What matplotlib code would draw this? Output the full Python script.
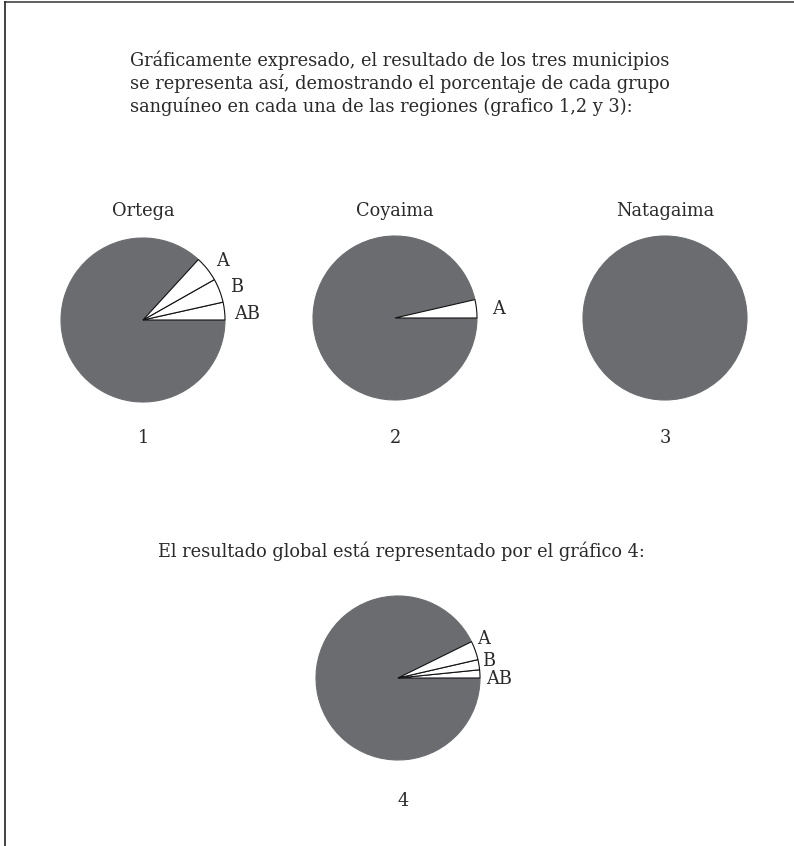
import numpy as np
import matplotlib.pyplot as plt
from matplotlib.lines import Line2D

# blood group shares (%) per municipality
ortega_labels = ['AB', 'B', 'A', '']
ortega_values = [3.5, 4.7, 5.0, 86.8]

coyaima_labels = ['A', '']
coyaima_values = [3.6, 96.4]

natagaima_labels = ['']
natagaima_values = [100.0]

global_labels = ['AB', 'B', 'A', '']
global_values = [1.6, 2.0, 3.7, 92.7]

GRAY = '#6b6c70'
TXT = '#2a2a2a'
FS = 12.8
W, H = 794, 846

plt.rcParams['font.family'] = ['DejaVu Serif']

fig = plt.figure(figsize=(W / 100, H / 100), dpi=100)


def fx(px):
    return px / W


def fy(py):
    return 1 - py / H


# page border (top and left)
fig.add_artist(Line2D([fx(5), 1], [fy(2), fy(2)], color='#444444', lw=1.2))
fig.add_artist(Line2D([fx(5), fx(5)], [fy(2), 0], color='#222222', lw=1.2))

fig.text(fx(130), fy(50),
         'Gráficamente expresado, el resultado de los tres municipios\n'
         'se representa así, demostrando el porcentaje de cada grupo\n'
         'sanguíneo en cada una de las regiones (grafico 1,2 y 3):',
         ha='left', va='top', fontsize=FS, color=TXT, linespacing=1.3)


def draw_pie(cx, cy, values, labels, title, num, num_x, num_y, r=82, ldist=1.24, label_pos=None):
    ax = fig.add_axes([fx(cx - r), fy(cy + r), 2 * r / W, 2 * r / H])
    colors = ['white'] * (len(values) - 1) + [GRAY]
    wedges, texts = ax.pie(values, labels=labels, colors=colors, startangle=0,
                           counterclock=True, labeldistance=ldist,
                           wedgeprops=dict(edgecolor='#111111', linewidth=0.8),
                           textprops=dict(fontsize=FS, color=TXT))
    wedges[-1].set_edgecolor(GRAY)
    wedges[-1].set_zorder(0)
    for i, t in enumerate(texts):
        t.set_ha('center')
        t.set_va('center_baseline')
        t.set_clip_on(False)
        if label_pos is not None and i < len(label_pos):
            a = np.deg2rad(label_pos[i][0])
            t.set_position((label_pos[i][1] * np.cos(a), label_pos[i][1] * np.sin(a)))
    ax.set_xlim(-1, 1)
    ax.set_ylim(-1, 1)
    ax.set_aspect('equal')
    ax.axis('off')
    if title:
        fig.text(fx(cx), fy(209), title, ha='center', va='center_baseline', fontsize=FS, color=TXT)
    fig.text(fx(num_x), fy(num_y), num, ha='center', va='center_baseline', fontsize=FS, color=TXT)


draw_pie(143, 320, ortega_values, ortega_labels, 'Ortega', '1', 143, 436,
         label_pos=[(4.4, 1.27), (20.4, 1.22), (37.7, 1.22)])
draw_pie(395, 318, coyaima_values, coyaima_labels, 'Coyaima', '2', 395, 436,
         label_pos=[(6.0, 1.27)])
draw_pie(665, 318, natagaima_values, natagaima_labels, 'Natagaima', '3', 665, 436)

fig.text(fx(401), fy(549), 'El resultado global está representado por el gráfico 4:',
         ha='center', va='center_baseline', fontsize=FS, color=TXT)

draw_pie(398, 678, global_values, global_labels, None, '4', 403, 799,
         label_pos=[(0.6, 1.23), (11.8, 1.13), (25.5, 1.16)])

fig.savefig('out.png', dpi=100, facecolor='white')
